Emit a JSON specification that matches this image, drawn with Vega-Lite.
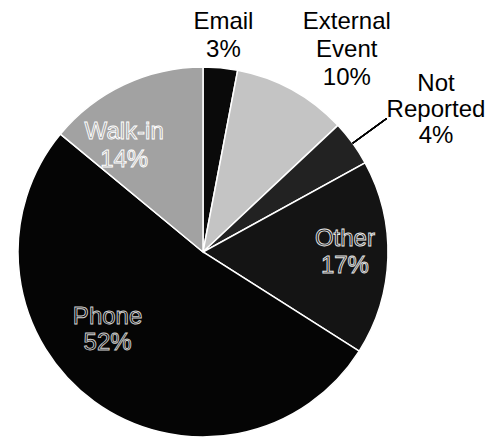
{
  "$schema": "https://vega.github.io/schema/vega-lite/v6.json",
  "autosize": "none",
  "width": 406,
  "height": 370,
  "padding": {"left": 0, "top": 67, "right": 85, "bottom": 0},
  "background": "white",
  "config": {"view": {"stroke": null}, "text": {"font": "Liberation Sans"}},
  "data": {"values": [
    {"idx": 1, "cat": "Email", "value": 3, "label": "Email\n3%"},
    {"idx": 2, "cat": "External Event", "value": 10, "label": "External\nEvent\n10%"},
    {"idx": 3, "cat": "Not Reported", "value": 4, "label": "Not\nReported\n4%"},
    {"idx": 4, "cat": "Other", "value": 17, "label": "Other\n17%"},
    {"idx": 5, "cat": "Phone", "value": 52, "label": "Phone\n52%"},
    {"idx": 6, "cat": "Walk-in", "value": 14, "label": "Walk-in\n14%"}
  ]},
  "layer": [
    {
      "mark": {"type": "arc", "outerRadius": 185, "stroke": "white", "strokeWidth": 1.5},
      "encoding": {
        "theta": {"field": "value", "type": "quantitative", "stack": true},
        "order": {"field": "idx", "type": "quantitative"},
        "color": {"field": "cat", "type": "nominal", "legend": null,
          "scale": {"domain": ["Email", "External Event", "Not Reported", "Other", "Phone", "Walk-in"],
                    "range": ["#0a0a0a", "#c4c4c4", "#222222", "#141414", "#050505", "#a2a2a2"]}}
      }
    },
    {
      "mark": {"type": "arc", "radius": 185, "radius2": 227, "stroke": "black", "strokeWidth": 1.3, "fill": null},
      "encoding": {
        "theta": {"datum": 15, "type": "quantitative"},
        "theta2": {"datum": 15}
      }
    },
    {
      "mark": {"type": "text", "radius": 217, "dy": -14, "fontSize": 24, "lineBreak": "\n", "lineHeight": 28, "fill": "black", "baseline": "middle", "align": "center"},
      "encoding": {
        "theta": {"field": "value", "type": "quantitative", "stack": true},
        "order": {"field": "idx", "type": "quantitative"},
        "text": {"condition": {"test": "datum.cat === 'Email'", "field": "label"}, "value": ""}
      }
    },
    {
      "mark": {"type": "text", "radius": 230, "dx": 33, "dy": -28, "fontSize": 24, "lineBreak": "\n", "lineHeight": 28, "fill": "black", "baseline": "middle", "align": "center"},
      "encoding": {
        "theta": {"field": "value", "type": "quantitative", "stack": true},
        "order": {"field": "idx", "type": "quantitative"},
        "text": {"condition": {"test": "datum.cat === 'External Event'", "field": "label"}, "value": ""}
      }
    },
    {
      "mark": {"type": "text", "radius": 241, "dx": 38, "dy": -26, "fontSize": 24, "lineBreak": "\n", "lineHeight": 26, "fill": "black", "baseline": "middle", "align": "center"},
      "encoding": {
        "theta": {"field": "value", "type": "quantitative", "stack": true},
        "order": {"field": "idx", "type": "quantitative"},
        "text": {"condition": {"test": "datum.cat === 'Not Reported'", "field": "label"}, "value": ""}
      }
    },
    {
      "mark": {"type": "text", "radius": 142, "dy": -17, "fontSize": 24, "lineBreak": "\n", "lineHeight": 27, "fill": "#141414", "stroke": "#e6e6e6", "strokeWidth": 0.9, "baseline": "middle", "align": "center"},
      "encoding": {
        "theta": {"field": "value", "type": "quantitative", "stack": true},
        "order": {"field": "idx", "type": "quantitative"},
        "text": {"condition": {"test": "datum.cat === 'Other'", "field": "label"}, "value": ""}
      }
    },
    {
      "mark": {"type": "text", "radius": 96, "dx": -39, "dy": -13, "fontSize": 24, "lineBreak": "\n", "lineHeight": 26, "fill": "#050505", "stroke": "#d0d0d0", "strokeWidth": 0.9, "baseline": "middle", "align": "center"},
      "encoding": {
        "theta": {"field": "value", "type": "quantitative", "stack": true},
        "order": {"field": "idx", "type": "quantitative"},
        "text": {"condition": {"test": "datum.cat === 'Phone'", "field": "label"}, "value": ""}
      }
    },
    {
      "mark": {"type": "text", "radius": 117, "dx": -29, "dy": -14, "fontSize": 24, "lineBreak": "\n", "lineHeight": 28, "fill": "#a2a2a2", "stroke": "white", "strokeWidth": 0.9, "baseline": "middle", "align": "center"},
      "encoding": {
        "theta": {"field": "value", "type": "quantitative", "stack": true},
        "order": {"field": "idx", "type": "quantitative"},
        "text": {"condition": {"test": "datum.cat === 'Walk-in'", "field": "label"}, "value": ""}
      }
    }
  ]
}
